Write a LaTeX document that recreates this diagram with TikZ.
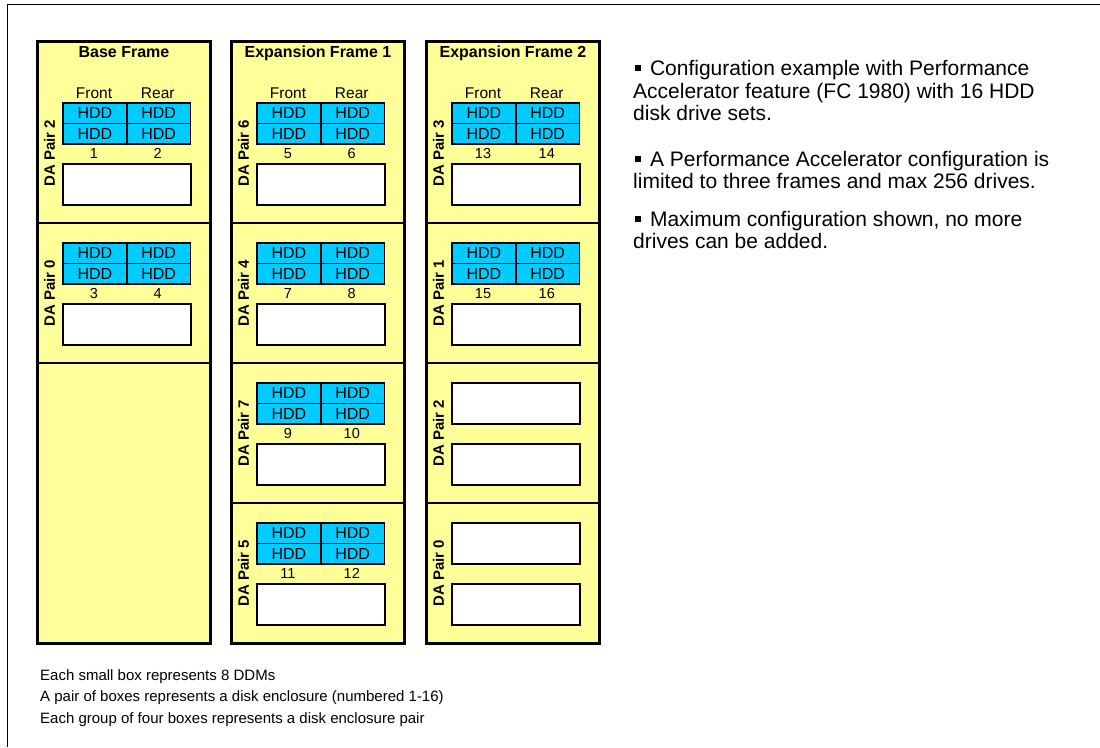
\documentclass[tikz,border=0pt]{standalone}
\usepackage{fontspec}
\setmainfont{Liberation Sans}
\definecolor{frameyellow}{HTML}{FFFF99}
\definecolor{hddcyan}{HTML}{00CCFF}

\newcommand{\filledsec}[5]{% #1 frame left, #2 section bottom, #3 DA pair, #4 first no, #5 second no
  \node[dalabel] (da#3#1) at (#1+12, #2-70) {DA Pair #3};
  \node[hddcell, minimum width=64pt, anchor=north west] (h#4a) at (#1+24.5, #2-121) {HDD};
  \node[hddcell, minimum width=63.5pt, anchor=north west] (h#4b) at (#1+88.5, #2-121) {HDD};
  \node[hddcell, minimum width=64pt, anchor=north west] (h#4c) at (#1+24.5, #2-100.5) {HDD};
  \node[hddcell, minimum width=63.5pt, anchor=north west] (h#4d) at (#1+88.5, #2-100.5) {HDD};
  \node[numlabel] (n#4) at (#1+56.5, #2-69.5) {#4};
  \node[numlabel] (n#5) at (#1+120.25, #2-69.5) {#5};
  \node[emptybox, anchor=north west] (e#4) at (#1+24.5, #2-60) {};
}
\newcommand{\frontrear}[2]{% #1 frame left, #2 section bottom
  \node[colhead, anchor=base] (fr#1) at (#1+56.5, #2-125) {Front};
  \node[colhead, anchor=base] (re#1) at (#1+120.25, #2-125) {Rear};
}
\newcommand{\emptysec}[3]{% #1 frame left, #2 section bottom, #3 DA pair
  \node[dalabel] (da#3#1) at (#1+12, #2-70) {DA Pair #3};
  \node[emptybox, anchor=north west] (eu#3) at (#1+24.5, #2-121) {};
  \node[emptybox, anchor=north west] (el#3) at (#1+24.5, #2-60) {};
}

\begin{document}
\begin{tikzpicture}[x=1pt,y=-1pt,
  frame/.style={draw=black, line width=3pt, fill=frameyellow},
  divider/.style={draw=black, line width=2pt},
  frametitle/.style={font=\fontsize{16}{16}\selectfont\bfseries, inner sep=0pt},
  colhead/.style={font=\fontsize{15.5}{15.5}\selectfont, inner sep=0pt},
  hddcell/.style={draw=black, line width=1.8pt, fill=hddcyan, minimum height=20.5pt, inner sep=0pt, font=\fontsize{16}{16}\selectfont},
  numlabel/.style={font=\fontsize{14.5}{14.5}\selectfont, inner sep=0pt},
  emptybox/.style={draw=black, line width=2.2pt, fill=white, minimum width=127.5pt, minimum height=41pt, inner sep=0pt},
  dalabel/.style={font=\fontsize{15}{15}\selectfont\bfseries, rotate=90, inner sep=0pt},
  bodytext/.style={font=\fontsize{21}{23}\selectfont, inner sep=0pt, anchor=base west},
  notetext/.style={font=\fontsize{15}{15}\selectfont, inner sep=0pt, anchor=base west}
]
\useasboundingbox (0,0) rectangle (1100,747);
\fill[white] (0,0) rectangle (1100,747);

% outer border
\coordinate (bl) at (7.5,747);
\coordinate (tl) at (7.5,4.5);
\coordinate (tr) at (1100,4.5);
\draw[line width=1.3pt] (bl) -- (tl) -- (tr);

% frames
\draw[frame] (37.5,41) rectangle (210.5,643.5);
\draw[frame] (231.5,41) rectangle (404.5,643.5);
\draw[frame] (426.5,41) rectangle (599.5,643.5);

\node[frametitle, anchor=base] (tbase) at (124,57) {Base Frame};
\node[frametitle, anchor=base] (texp1) at (318,57) {Expansion Frame 1};
\node[frametitle, anchor=base] (texp2) at (513,57) {Expansion Frame 2};

% dividers
\draw[divider] (37.5,223) -- (210.5,223);
\draw[divider] (37.5,363) -- (210.5,363);
\draw[divider] (231.5,223) -- (404.5,223);
\draw[divider] (231.5,363) -- (404.5,363);
\draw[divider] (231.5,503) -- (404.5,503);
\draw[divider] (426.5,223) -- (599.5,223);
\draw[divider] (426.5,363) -- (599.5,363);
\draw[divider] (426.5,503) -- (599.5,503);

% base frame
\frontrear{37.5}{223}
\filledsec{37.5}{223}{2}{1}{2}
\filledsec{37.5}{363}{0}{3}{4}
% expansion frame 1
\frontrear{231.5}{223}
\filledsec{231.5}{223}{6}{5}{6}
\filledsec{231.5}{363}{4}{7}{8}
\filledsec{231.5}{503}{7}{9}{10}
\filledsec{231.5}{643}{5}{11}{12}
% expansion frame 2
\frontrear{426.5}{223}
\filledsec{426.5}{223}{3}{13}{14}
\filledsec{426.5}{363}{1}{15}{16}
\emptysec{426.5}{503}{2}
\emptysec{426.5}{643}{0}

% right-hand text
\newcommand{\sqbullet}{\hspace*{2pt}\raisebox{4.5pt}{\rule{5.5pt}{5.5pt}}\ \,}
\node[bodytext] (p1a) at (633,75) {\sqbullet Configuration example with Performance};
\node[bodytext] (p1b) at (633,98) {Accelerator feature (FC 1980) with 16 HDD};
\node[bodytext] (p1c) at (633,120) {disk drive sets.};
\node[bodytext] (p2a) at (633,166) {\sqbullet A Performance Accelerator configuration is};
\node[bodytext] (p2b) at (633,188) {limited to three frames and max 256 drives.};
\node[bodytext] (p3a) at (633,226) {\sqbullet Maximum configuration shown, no more};
\node[bodytext] (p3b) at (633,248) {drives can be added.};

% notes
\node[notetext] (n1) at (40,680) {Each small box represents 8 DDMs};
\node[notetext] (n2) at (40,701.5) {A pair of boxes represents a disk enclosure (numbered 1-16)};
\node[notetext] (n3) at (40,723) {Each group of four boxes represents a disk enclosure pair};
\end{tikzpicture}
\end{document}
